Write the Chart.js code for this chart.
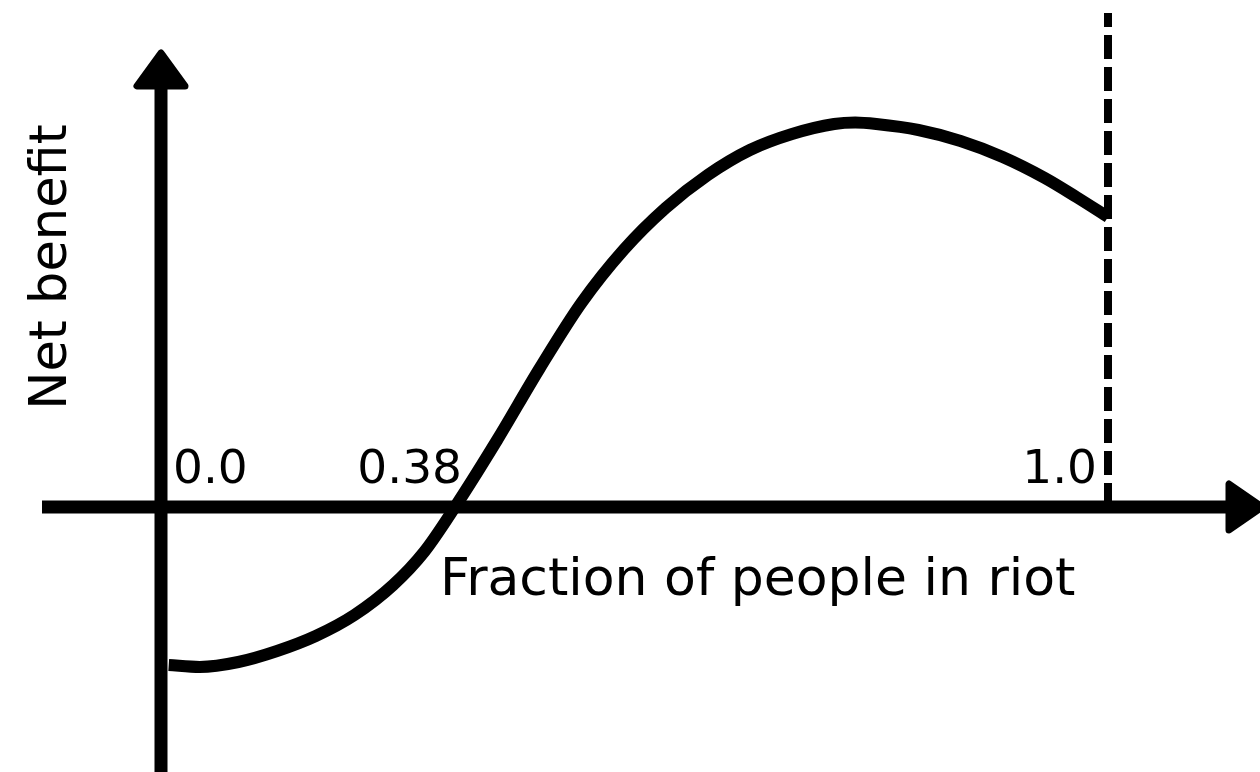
<!DOCTYPE html>
<html>
<head>
<meta charset="utf-8">
<script src="https://cdn.jsdelivr.net/npm/chart.js@4/dist/chart.umd.min.js"></script>
<style>
  html, body { margin: 0; padding: 0; background: #fff; }
  #wrap { position: relative; width: 1260px; height: 772px; }
</style>
</head>
<body>
<div id="wrap"><canvas id="riot"></canvas></div>
<script>
// fraction of people rioting vs. net benefit of joining
const fractionInRiot = [0.01, 0.05, 0.10, 0.15, 0.20, 0.25, 0.30, 0.34, 0.38,
  0.42, 0.46, 0.50, 0.54, 0.58, 0.62, 0.66, 0.70, 0.74, 0.76, 0.78,
  0.82, 0.86, 0.90, 0.94, 0.97, 1.0];
const netBenefit = [-1.58, -1.60, -1.55, -1.44, -1.29, -1.08, -0.78, -0.45, 0,
  0.67, 1.38, 2.04, 2.57, 2.99, 3.32, 3.57, 3.73, 3.83, 3.845, 3.83,
  3.77, 3.66, 3.50, 3.29, 3.10, 2.90];

// everyone-rioting boundary
const boundaryX = [1.0, 1.0];
const boundaryY = [4.94, 0];

const tickValues = [0, 0.38, 1.0];
const tickLabels = ['0.0', '0.38', '1.0'];

const FONT = '"DejaVu Sans", sans-serif';

// x axis is drawn schematically: each marked value sits at a fixed place
// along the width and the stretches between them are linear
class WarpScale extends Chart.LinearScale {
  static id = 'warp';
  static defaults = {};

  decimalFor(value) {
    const k = this.options.knots, p = this.options.places;
    let i = 0;
    while (i < k.length - 2 && value > k[i + 1]) i++;
    const t = (value - k[i]) / (k[i + 1] - k[i]);
    return p[i] + t * (p[i + 1] - p[i]);
  }
  getPixelForValue(value) {
    if (value === null || value === undefined) return NaN;
    return this.left + this.width * this.decimalFor(value);
  }
  getValueForPixel(pixel) {
    const k = this.options.knots, p = this.options.places;
    const d = (pixel - this.left) / this.width;
    let i = 0;
    while (i < p.length - 2 && d > p[i + 1]) i++;
    const t = (d - p[i]) / (p[i + 1] - p[i]);
    return k[i] + t * (k[i + 1] - k[i]);
  }
}
Chart.register(WarpScale);

function arrowHead(ctx, pts) {
  ctx.beginPath();
  ctx.moveTo(pts[0][0], pts[0][1]);
  ctx.lineTo(pts[1][0], pts[1][1]);
  ctx.lineTo(pts[2][0], pts[2][1]);
  ctx.closePath();
  ctx.fill();
  ctx.stroke();
}

const axesPlugin = {
  id: 'riotAxes',
  beforeDatasetsDraw(chart) {
    const { ctx, chartArea: area, scales: { x, y } } = chart;
    const x0 = x.getPixelForValue(0);
    const y0 = y.getPixelForValue(0);
    ctx.save();
    ctx.strokeStyle = '#000';
    ctx.fillStyle = '#000';

    ctx.lineWidth = 13;
    ctx.lineCap = 'butt';
    ctx.beginPath();
    ctx.moveTo(x0, area.bottom);
    ctx.lineTo(x0, area.top + 86);
    ctx.stroke();

    ctx.beginPath();
    ctx.moveTo(x0 - 119, y0);
    ctx.lineTo(area.right - 34, y0);
    ctx.stroke();

    ctx.lineWidth = 7;
    ctx.lineJoin = 'round';
    arrowHead(ctx, [[x0, area.top + 53], [x0 - 24, area.top + 86], [x0 + 24, area.top + 86]]);
    arrowHead(ctx, [[area.right + 2, y0], [area.right - 31, y0 - 23], [area.right - 31, y0 + 23]]);
    ctx.restore();
  },
  afterDatasetsDraw(chart) {
    const { ctx, chartArea: area, scales: { x, y } } = chart;
    const y0 = y.getPixelForValue(0);
    ctx.save();
    ctx.fillStyle = '#000';
    ctx.textBaseline = 'alphabetic';

    ctx.font = '47px ' + FONT;
    tickValues.forEach((v, i) => {
      const px = x.getPixelForValue(v);
      if (i === 0) {
        ctx.textAlign = 'left';
        ctx.fillText(tickLabels[i], px + 12, y0 - 24);
      } else {
        ctx.textAlign = 'right';
        ctx.fillText(tickLabels[i], px + (i === tickValues.length - 1 ? -11 : 7), y0 - 24);
      }
    });

    ctx.font = '52px ' + FONT;
    ctx.textAlign = 'left';
    ctx.fillText('Fraction of people in riot', 440, y0 + 88);

    ctx.font = '51px ' + FONT;
    ctx.translate(area.left + 66, area.top + 267);
    ctx.rotate(-Math.PI / 2);
    ctx.textAlign = 'center';
    ctx.fillText('Net benefit', 0, 0);
    ctx.restore();
  }
};

new Chart(document.getElementById('riot'), {
  type: 'line',
  data: {
    datasets: [
      {
        label: 'Net benefit',
        data: fractionInRiot.map((f, i) => ({ x: f, y: netBenefit[i] })),
        borderColor: '#000',
        borderWidth: 12,
        borderCapStyle: 'butt',
        borderJoinStyle: 'round',
        cubicInterpolationMode: 'monotone',
        pointRadius: 0,
        fill: false,
        clip: false
      },
      {
        label: 'Boundary',
        data: boundaryX.map((f, i) => ({ x: f, y: boundaryY[i] })),
        borderColor: '#000',
        borderWidth: 8,
        borderDash: [24, 8],
        borderDashOffset: 10,
        borderCapStyle: 'butt',
        tension: 0,
        pointRadius: 0,
        fill: false,
        clip: false
      }
    ]
  },
  options: {
    responsive: true,
    maintainAspectRatio: false,
    animation: false,
    layout: { padding: 0 },
    plugins: {
      legend: { display: false },
      title: { display: false },
      tooltip: { enabled: false }
    },
    scales: {
      x: {
        type: 'warp',
        display: false,
        min: -0.2,
        max: 1.2,
        knots: tickValues,
        places: [161 / 1260, 455 / 1260, 1108 / 1260]
      },
      y: {
        type: 'linear',
        display: false,
        min: -2.65,
        max: 5.07
      }
    }
  },
  plugins: [axesPlugin]
});
</script>
</body>
</html>
